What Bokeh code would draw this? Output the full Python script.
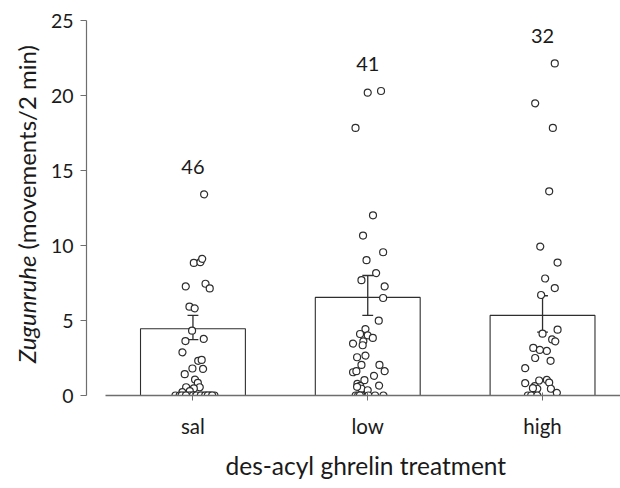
import math
from bokeh.plotting import figure
from bokeh.layouts import row
from bokeh.models import FixedTicker, Range1d, Title
from bokeh.core.properties import value
from bokeh.embed import file_html
from bokeh.resources import INLINE

# ---------------- data ----------------
categories = ["sal", "low", "high"]
cat_pos = [1, 2, 3]
means = [4.45, 6.54, 5.34]
err_upper = [5.34, 8.0, 6.65]
err_lower = [3.72, 5.34, 4.23]
n_labels = ["46", "41", "32"]

sal_values = [13.41, 8.84, 8.89, 9.11, 7.27, 7.45, 7.14, 5.92, 5.81,
              4.32, 3.63, 3.77, 2.88, 2.31, 2.37, 1.80, 1.77, 1.42, 1.06, 0.84,
              0.55, 0.55, 0.47, 0.29, 0.22,
              0, 0, 0, 0, 0, 0, 0, 0, 0, 0, 0, 0,
              0, 0, 0, 0, 0, 0, 0, 0, 0]
sal_jitter = [0.064, 0.005, 0.043, 0.053, -0.041, 0.072, 0.096, -0.02, 0.01,
              -0.005, -0.043, 0.062, -0.06, 0.03, 0.05, -0.003, 0.058, -0.047, 0.012, 0.028,
              -0.039, 0.039, 0.005, -0.018, -0.06,
              -0.1, -0.076, -0.053, -0.033, -0.01, 0.005, 0.039, 0.058, 0.077, 0.094, 0.104, 0.123,
              -0.02, 0.0, 0.02, 0.045, 0.07, -0.065, -0.04, 0.085, 0.11]

low_values = [20.19, 20.30, 17.84, 12.01, 10.66, 9.55, 9.02, 8.16, 7.69, 7.27, 6.50,
              4.99, 4.43, 4.10, 4.01, 3.84, 3.61, 3.46, 3.35, 2.55, 2.66, 2.04, 2.04,
              1.55, 1.62, 1.62, 1.31, 1.02, 0.78, 0.64, 0.66, 0.45, 0.35, 0.58,
              0, 0, 0, 0, 0, 0, 0]
low_jitter = [0.0, 0.076, -0.07, 0.03, -0.027, 0.088, -0.007, 0.048, -0.036, 0.097, 0.088,
              0.063, -0.013, -0.044, 0.0, 0.029, -0.025, -0.084, -0.029, -0.061, -0.013, -0.036, 0.067,
              -0.084, -0.065, 0.097, 0.036, -0.019, -0.059, -0.044, 0.065, -0.036, 0.0, -0.061,
              -0.069, -0.055, -0.036, 0.004, 0.042, 0.09, -0.045]

high_values = [22.14, 19.48, 17.84, 13.61, 9.93, 8.86, 7.80, 7.16, 6.70,
               4.12, 4.39, 3.74, 3.61, 3.17, 3.04, 2.97, 2.50, 2.31, 1.82,
               0.82, 1.00, 1.04, 0.86, 0.62, 0.45, 0.45, 0.49, 0.18,
               0, 0, 0, 0]
high_jitter = [0.07, -0.042, 0.059, 0.038, -0.013, 0.086, 0.015, 0.07, -0.008,
               0.0, 0.086, 0.055, 0.073, -0.053, -0.015, 0.025, -0.042, 0.046, -0.099,
               -0.099, -0.019, 0.025, 0.038, -0.044, -0.03, 0.048, -0.055, 0.082,
               -0.084, -0.048, -0.065, -0.03]

y_ticks = [0, 5, 10, 15, 20, 25]
y_title_italic = "Zugunruhe"
y_title_rest = "(movements/2 min)"
x_title = "des-acyl ghrelin treatment"

# ---------------- styling ----------------
FONT = "Lato"
TXT = "#1a1a1a"
AX = "#6e6e6e"
DARK = "#2e2e2e"
LEFT_W = 44
TOTAL_W, TOTAL_H = 620, 488

# ---- narrow figure holding the mixed-style y-axis title ----
t = figure(width=LEFT_W, height=TOTAL_H, output_backend="svg", toolbar_location=None,
           x_range=Range1d(0, LEFT_W), y_range=Range1d(0, TOTAL_H),
           x_axis_location=None, y_axis_location=None, min_border=0)
t.frame_align = False
t.grid.visible = False
t.outline_line_color = None
t.border_fill_color = "white"
split_y = 233
t.text(x=[26], y=[split_y], text=[y_title_italic], angle=math.pi / 2,
       text_font=value(FONT), text_font_size="24px", text_font_style="italic",
       text_color=TXT, text_align="right", text_baseline="middle")
t.text(x=[26], y=[split_y], text=[y_title_rest], angle=math.pi / 2, y_offset=-6,
       text_font=value(FONT), text_font_size="24px", text_font_style="normal",
       text_color=TXT, text_align="left", text_baseline="middle")

# ---- main chart ----
p = figure(width=TOTAL_W - LEFT_W, height=TOTAL_H, output_backend="svg", toolbar_location=None,
           x_range=Range1d(0.391, 3.446), y_range=Range1d(0, 25),
           min_border_left=86 - LEFT_W, min_border_right=0, min_border_top=20, min_border_bottom=92)
p.frame_align = False
p.outline_line_color = None
p.grid.visible = False
p.background_fill_color = "white"
p.border_fill_color = "white"

# bars
p.vbar(x=cat_pos, top=means, width=0.6, bottom=0, fill_color="white",
       line_color=DARK, line_width=1.1)

# error bars
cap = 0.031
p.segment(x0=cat_pos, y0=err_lower, x1=cat_pos, y1=err_upper, line_color=DARK, line_width=1.3)
p.segment(x0=[c - cap for c in cat_pos], y0=err_upper, x1=[c + cap for c in cat_pos], y1=err_upper,
          line_color=DARK, line_width=1.3)
p.segment(x0=[c - cap for c in cat_pos], y0=err_lower, x1=[c + cap for c in cat_pos], y1=err_lower,
          line_color=DARK, line_width=1.3)

# points
for pos, vals, jit in [(1, sal_values, sal_jitter), (2, low_values, low_jitter), (3, high_values, high_jitter)]:
    p.scatter(x=[pos + j for j in jit], y=vals, size=7, marker="circle",
              fill_color="white", line_color=DARK, line_width=1.2)

# n labels above each group
maxes = [max(sal_values), max(low_values), max(high_values)]
p.text(x=cat_pos, y=[m + 1.8 for m in maxes], text=n_labels,
       text_font=value(FONT), text_font_size="20px", text_color=TXT,
       text_align="center", text_baseline="middle")

# x axis
xa = p.xaxis[0]
xa.ticker = FixedTicker(ticks=cat_pos)
xa.major_label_overrides = {c: l for c, l in zip(cat_pos, categories)}
xa.bounds = (0.5, 3.5)
xa.axis_line_color = AX
xa.axis_line_width = 1.3
xa.major_tick_line_color = AX
xa.major_tick_in = 3
xa.major_tick_out = 5
xa.minor_tick_line_color = None
xa.major_label_text_font = FONT
xa.major_label_text_font_size = "20.5px"
xa.major_label_text_color = TXT
xa.major_label_standoff = 13

p.add_layout(Title(text=x_title, align="left", offset=139, standoff=17,
                   text_font=FONT, text_font_size="24.5px", text_font_style="normal",
                   text_color=TXT), "below")

# y axis
ya = p.yaxis[0]
ya.ticker = FixedTicker(ticks=y_ticks)
ya.bounds = (0, 25)
ya.axis_line_color = AX
ya.axis_line_width = 1.2
ya.major_tick_line_color = AX
ya.major_tick_in = 0
ya.major_tick_out = 6
ya.minor_tick_line_color = None
ya.major_label_text_font = FONT
ya.major_label_text_font_size = "19.5px"
ya.major_label_text_color = TXT
ya.major_label_standoff = 7

layout = row(t, p, spacing=0)
open("out.html", "w").write(file_html(layout, INLINE))
